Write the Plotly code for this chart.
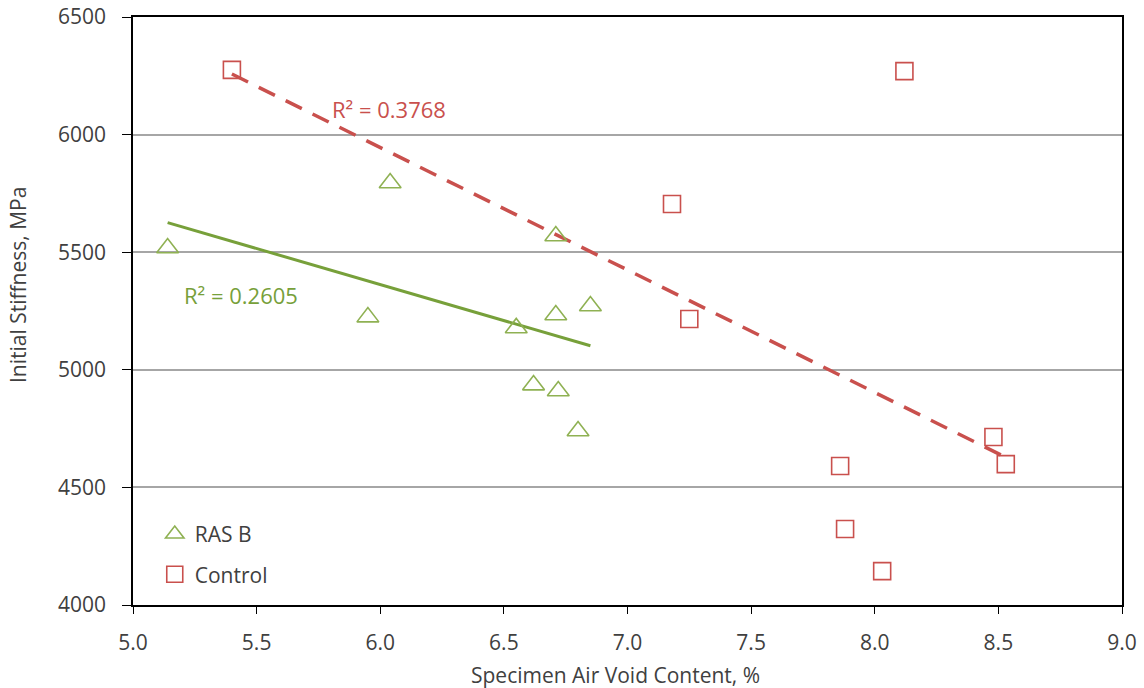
import numpy as np
import plotly.graph_objects as go

# RAS B data
ras_x = [5.14, 6.04, 5.95, 6.71, 6.55, 6.71, 6.85, 6.62, 6.72, 6.80]
ras_y = [5518, 5794, 5224, 5569, 5178, 5233, 5271, 4935, 4910, 4740]

# Control data
ctl_x = [5.40, 8.12, 7.18, 7.25, 8.48, 8.53, 7.86, 7.88, 8.03]
ctl_y = [6275, 6270, 5705, 5216, 4714, 4599, 4591, 4323, 4144]

ras_r2 = "R² = 0.2605"
ctl_r2 = "R² = 0.3768"
x_title = "Specimen Air Void Content, %"
y_title = "Initial Stiffness, MPa"

GREEN_M = "#8FB153"
GREEN_L = "#77A03A"
RED = "#C9504D"
FONT = "Open Sans"
TXT = "#404040"

def fit(xs, ys):
    m, b = np.polyfit(xs, ys, 1)
    x0, x1 = min(xs), max(xs)
    return [x0, x1], [m * x0 + b, m * x1 + b]

fig = go.Figure()

rx, ry = fit(ras_x, ras_y)
cx, cy = fit(ctl_x, ctl_y)

fig.add_trace(go.Scatter(x=rx, y=ry, mode="lines", showlegend=False,
                         line=dict(color=GREEN_L, width=3)))
fig.add_trace(go.Scatter(x=cx, y=cy, mode="lines", showlegend=False,
                         line=dict(color=RED, width=3.5, dash="18px,12px")))

fig.add_trace(go.Scatter(x=ras_x, y=ras_y, mode="markers", name="RAS B",
                         legendgroup="a",
                         marker=dict(symbol="triangle-up-open", size=19,
                                     color=GREEN_M, line=dict(width=1.6, color=GREEN_M))))
fig.add_trace(go.Scatter(x=ctl_x, y=ctl_y, mode="markers", name="Control",
                         legendgroup="b",
                         marker=dict(symbol="square-open", size=17,
                                     color=RED, line=dict(width=1.6, color=RED))))

fig.add_annotation(x=5.795, y=6110, text=ctl_r2, showarrow=False, xanchor="left",
                   font=dict(family=FONT, size=22, color=RED))
fig.add_annotation(x=5.2, y=5318, text=ras_r2, showarrow=False, xanchor="left",
                   font=dict(family=FONT, size=22, color=GREEN_L))

fig.add_annotation(x=0.488, y=-0.119, xref="paper", yref="paper", text=x_title,
                   showarrow=False, xanchor="center", yanchor="middle",
                   font=dict(family=FONT, size=21, color=TXT))
fig.add_annotation(x=-0.1163, y=0.544, xref="paper", yref="paper", text=y_title,
                   showarrow=False, xanchor="center", yanchor="middle", textangle=-90,
                   font=dict(family=FONT, size=21, color=TXT))

fig.update_layout(
    width=1144, height=688,
    margin=dict(l=133, r=22, t=17, b=83, autoexpand=False),
    paper_bgcolor="white", plot_bgcolor="white",
    font=dict(family=FONT, size=21, color=TXT),
    legend=dict(x=0.022, y=0.155, xanchor="left", yanchor="top",
                bgcolor="rgba(0,0,0,0)", font=dict(size=21, color=TXT),
                itemsizing="trace", tracegroupgap=10, itemwidth=30),
    xaxis=dict(range=[5.0, 9.0], dtick=0.5, tickformat=".1f", automargin=False,
               showline=True, linecolor="#000000", linewidth=1.5, mirror=True,
               ticks="outside", ticklen=7, tickcolor="#000000",
               ticklabelstandoff=11,
               showgrid=False, zeroline=False),
    yaxis=dict(range=[4000, 6500], dtick=500, automargin=False,
               showline=True, linecolor="#000000", linewidth=1.5, mirror=True,
               ticks="outside", ticklen=9, tickcolor="#000000",
               ticklabelstandoff=12,
               showgrid=True, gridcolor="#A6A6A6", gridwidth=1.5, zeroline=False),
)

fig.write_html("out.html")
